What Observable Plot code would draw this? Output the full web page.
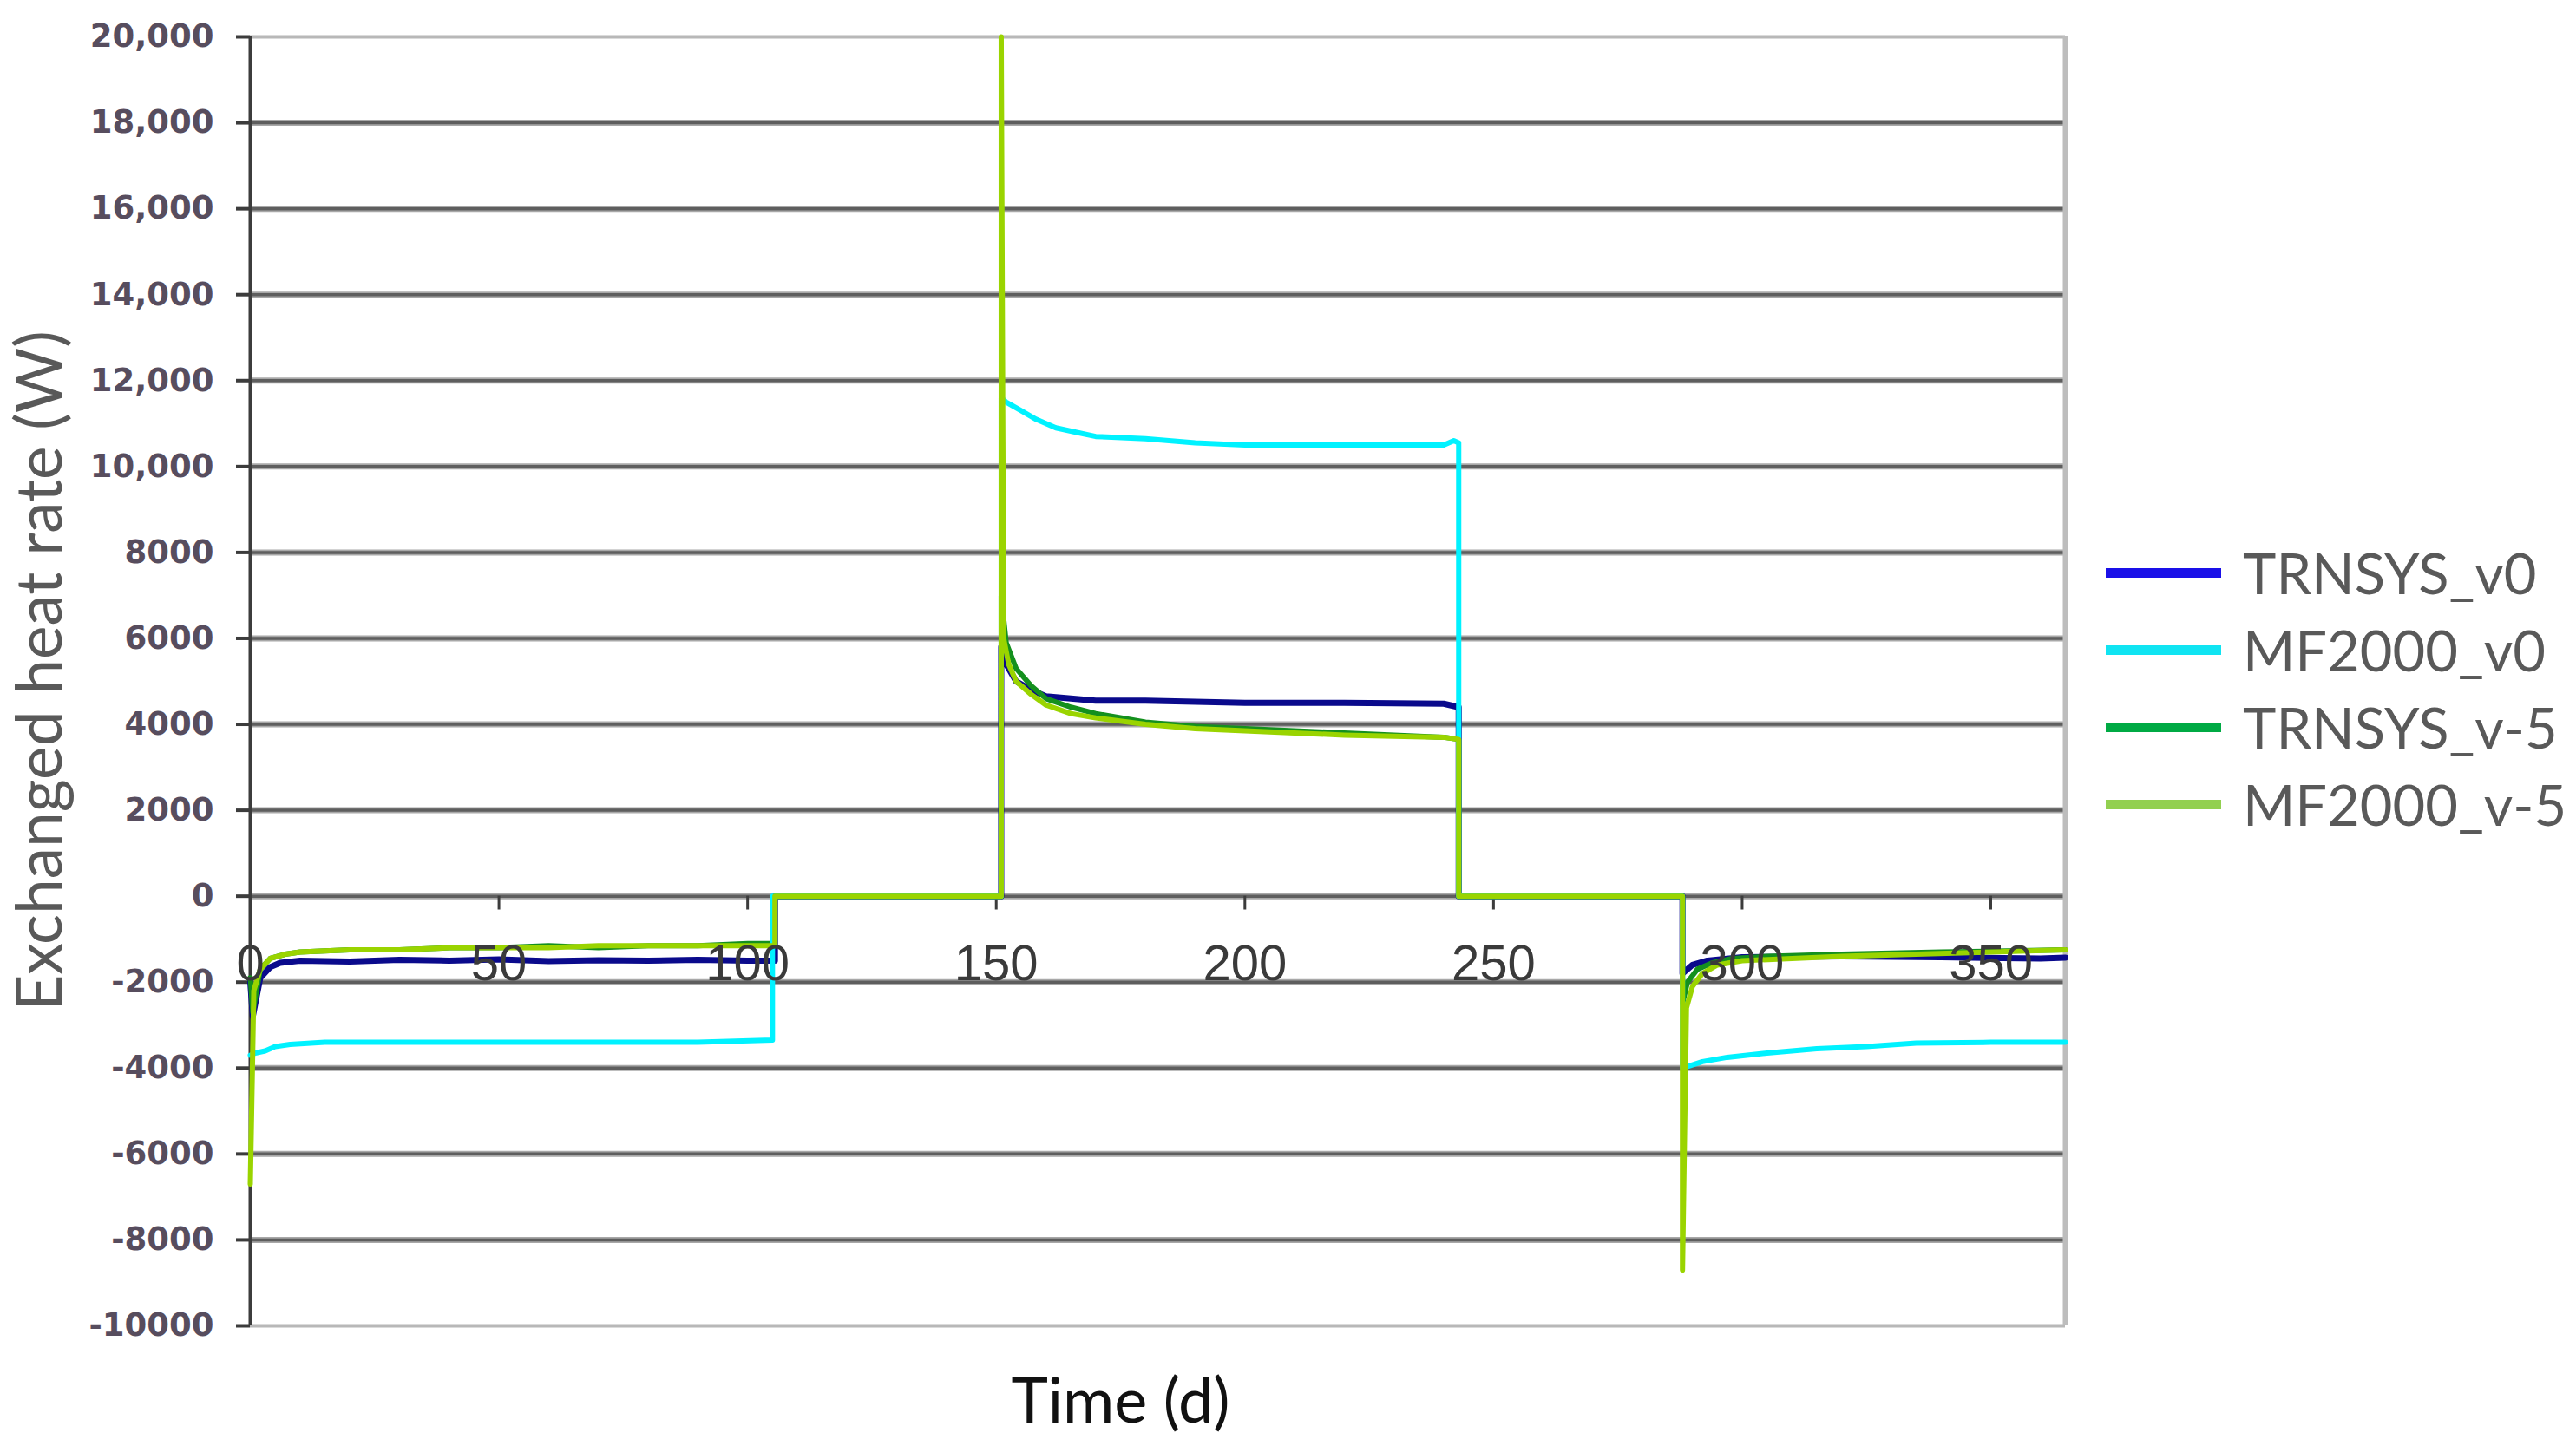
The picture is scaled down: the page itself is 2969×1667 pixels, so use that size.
<!DOCTYPE html>
<html>
<head>
<meta charset="utf-8">
<script src="https://cdn.jsdelivr.net/npm/d3@7"></script>
<script src="https://cdn.jsdelivr.net/npm/@observablehq/plot@0.6"></script>
<style>
  html, body { margin: 0; padding: 0; background: #ffffff; }
  #wrap { position: relative; width: 2969px; height: 1667px; overflow: hidden; background: #fff; }
  #chart { position: absolute; left: 0; top: 0; }
  #legend { position: absolute; left: 2427px; top: 616px; font-family: Lato, "Open Sans", sans-serif; color: #595959; white-space: nowrap; }
  .row { display: flex; align-items: center; height: 89px; }
  .sw { width: 133px; height: 11px; margin-right: 25px; flex: none; }
  .lab { font-size: 65px; line-height: 1; }
</style>
</head>
<body>
<div id="wrap"><div id="chart"></div><div id="legend"></div></div>
<script>
// ---- data ----
const seriesNames = ["TRNSYS_v0", "MF2000_v0", "TRNSYS_v-5", "MF2000_v-5"];
const lineColors = ["#0a0a8c", "#00f2ff", "#14901e", "#9ad400"];
const legendColors = ["#1a10e8", "#10e4f2", "#00aa44", "#92d050"];

const trnsysV0Day = [0, 0.5, 2, 4, 6, 10, 20, 30, 40, 50, 60, 70, 80, 90, 100, 105.5, 105.5, 151, 151, 152, 154, 157, 160, 165, 170, 180, 200, 220, 240, 243, 243, 288, 288, 290, 293, 300, 320, 340, 360, 365];
const trnsysV0Val = [-2000, -2800, -1900, -1650, -1550, -1500, -1520, -1480, -1500, -1470, -1510, -1490, -1500, -1480, -1500, -1500, 0, 0, 5800, 5400, 5000, 4800, 4650, 4600, 4550, 4550, 4500, 4500, 4480, 4400, 0, 0, -1800, -1600, -1500, -1420, -1400, -1420, -1450, -1430];

const mf2000V0Day = [0, 1, 3, 5, 8, 15, 30, 60, 90, 105, 105, 151, 151, 152, 155, 158, 162, 166, 170, 180, 190, 200, 220, 240, 242, 243, 243, 288, 288, 292, 297, 305, 315, 325, 335, 350, 365];
const mf2000V0Val = [-3700, -3650, -3600, -3500, -3450, -3400, -3400, -3400, -3400, -3350, 0, 0, 11600, 11500, 11300, 11100, 10900, 10800, 10700, 10650, 10550, 10500, 10500, 10500, 10600, 10550, 0, 0, -4000, -3850, -3750, -3650, -3550, -3500, -3420, -3400, -3400];

const trnsysV5Day = [0, 0.5, 2, 4, 7, 10, 20, 30, 40, 50, 60, 70, 80, 90, 100, 105.5, 105.5, 151, 151, 152, 154, 157, 160, 165, 170, 180, 190, 200, 220, 240, 243, 243, 288, 288, 289, 291, 294, 298, 305, 320, 340, 365];
const trnsysV5Val = [-1900, -2700, -1700, -1450, -1350, -1300, -1250, -1250, -1200, -1200, -1150, -1200, -1150, -1150, -1100, -1100, 0, 0, 7000, 5900, 5300, 4900, 4600, 4400, 4250, 4050, 3950, 3900, 3800, 3700, 3650, 0, 0, -2500, -2000, -1700, -1550, -1450, -1400, -1350, -1300, -1250];

const mf2000V5Day = [0, 0.7, 2, 4, 7, 10, 20, 30, 40, 50, 60, 70, 80, 90, 100, 105.5, 105.5, 151, 151, 151.5, 152.5, 154, 157, 160, 165, 170, 180, 190, 200, 220, 240, 243, 243, 288, 288, 288.8, 290, 292, 295, 300, 310, 320, 335, 350, 365];
const mf2000V5Val = [-6700, -2200, -1700, -1450, -1350, -1300, -1250, -1250, -1200, -1200, -1200, -1150, -1150, -1150, -1150, -1150, 0, 0, 20000, 6000, 5400, 5000, 4700, 4450, 4250, 4150, 4000, 3900, 3850, 3750, 3700, 3650, 0, 0, -8700, -2600, -2100, -1800, -1600, -1500, -1450, -1400, -1350, -1300, -1250];

const yTicks = [20000, 18000, 16000, 14000, 12000, 10000, 8000, 6000, 4000, 2000, 0, -2000, -4000, -6000, -8000, -10000];
const yTickLabels = ["20,000", "18,000", "16,000", "14,000", "12,000", "10,000", "8000", "6000", "4000", "2000", "0", "-2000", "-4000", "-6000", "-8000", "-10000"];
const xTicks = [0, 50, 100, 150, 200, 250, 300, 350];
const xTickLabels = ["0", "50", "100", "150", "200", "250", "300", "350"];
const xTitle = "Time (d)";
const yTitle = "Exchanged heat rate (W)";

// ---- build table ----
const dayArrays = [trnsysV0Day, mf2000V0Day, trnsysV5Day, mf2000V5Day];
const valArrays = [trnsysV0Val, mf2000V0Val, trnsysV5Val, mf2000V5Val];
const series = seriesNames.map((name, k) => dayArrays[k].map((d, i) => ({name, day: d, value: valArrays[k][i]})));

const yLabelMap = new Map(yTicks.map((t, i) => [t, yTickLabels[i]]));
const xLabelMap = new Map(xTicks.map((t, i) => [t, xTickLabels[i]]));
const innerGrid = yTicks.filter(t => t !== 20000 && t !== -10000);

const drawOrder = [0, 2, 1, 3];
const lineWidths = [7, 6, 6, 6];

const chart = Plot.plot({
  width: 2400,
  height: 1667,
  marginLeft: 288,
  marginRight: 20,
  marginTop: 42,
  marginBottom: 139,
  style: {background: "#ffffff", overflow: "visible"},
  x: {domain: [0, 365]},
  y: {domain: [-10000, 20000]},
  marks: [
    Plot.ruleY(innerGrid, {stroke: "#a8a8a8", strokeWidth: 7}),
    Plot.ruleY(innerGrid, {stroke: "#5e5e5e", strokeWidth: 3.5}),
    Plot.ruleY([20000, -10000], {stroke: "#b8b8b8", strokeWidth: 4}),
    Plot.ruleX([365], {stroke: "#bdbdbd", strokeWidth: 6}),
    Plot.axisY(yTicks, {
      tickSize: 16, tickPadding: 26, tickFormat: d => yLabelMap.get(d),
      fontSize: 37, fontWeight: "bold", fontFamily: "DejaVu Sans",
      fill: "#574d5e", stroke: "#3c3c3c", strokeWidth: 4, label: null
    }),
    Plot.axisX([], {label: null}),
    Plot.ruleX([0], {stroke: "#3c3c3c", strokeWidth: 4}),
    Plot.ruleX(xTicks.filter(t => t > 0), {y1: 0, y2: -320, stroke: "#3c3c3c", strokeWidth: 3}),
    ...drawOrder.map(k => Plot.line(series[k], {x: "day", y: "value", stroke: lineColors[k], strokeWidth: lineWidths[k], curve: "linear"})),
    Plot.text(xTicks, {x: d => d, y: 0, text: d => xLabelMap.get(d), dy: 78,
      fontSize: 58, fontFamily: "Liberation Sans Narrow, Liberation Sans, sans-serif", fill: "#3a3a3a", textAnchor: "middle"}),
    Plot.text([xTitle], {frameAnchor: "bottom", dx: -43, dy: 111, fontSize: 72, fontFamily: "Lato", fill: "#111111", textAnchor: "middle"}),
    Plot.text([yTitle], {frameAnchor: "left", dx: -241, dy: -12, rotate: -90, fontSize: 73, fontFamily: "Lato", fill: "#595959", textAnchor: "middle"})
  ]
});
document.getElementById("chart").appendChild(chart);

// ---- legend ----
const legend = document.getElementById("legend");
seriesNames.forEach((name, k) => {
  const row = document.createElement("div");
  row.className = "row";
  const sw = document.createElement("div");
  sw.className = "sw";
  sw.style.background = legendColors[k];
  const lab = document.createElement("span");
  lab.className = "lab";
  lab.textContent = name;
  row.appendChild(sw);
  row.appendChild(lab);
  legend.appendChild(row);
});
</script>
</body>
</html>
